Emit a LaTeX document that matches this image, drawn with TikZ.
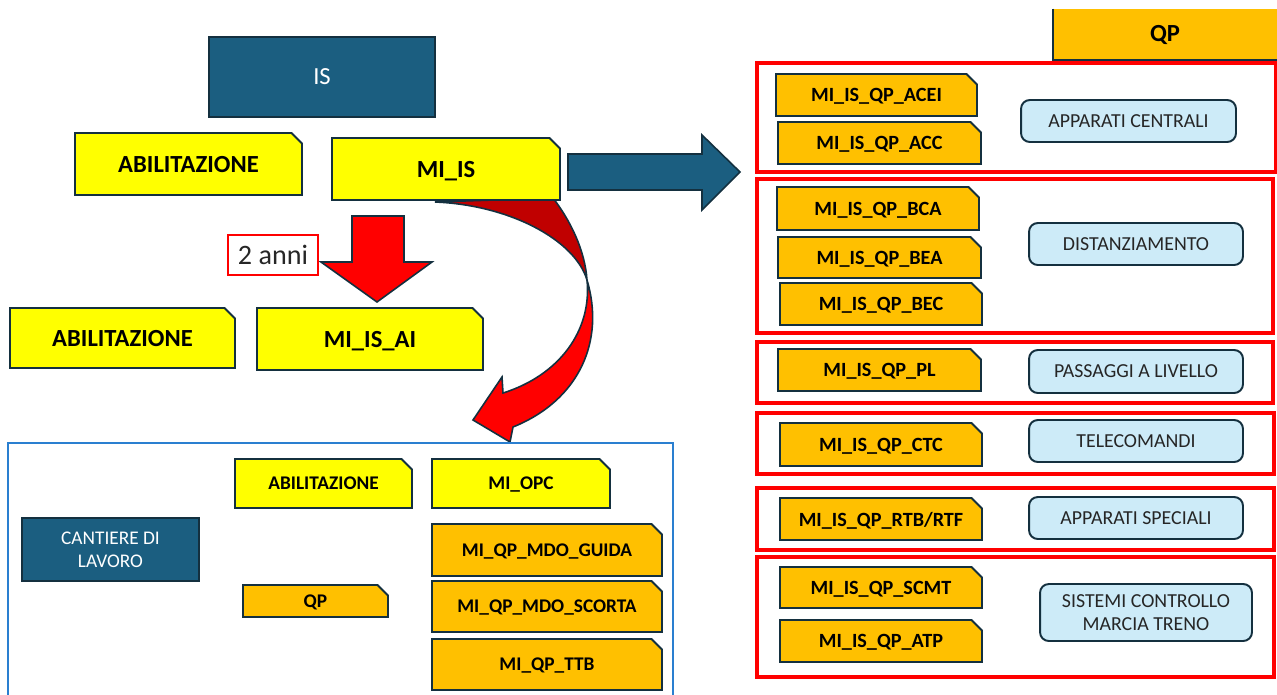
\documentclass[tikz,border=0pt]{standalone}
\usepackage{fontspec}
\setmainfont{Carlito}
\usetikzlibrary{shapes.misc}

\definecolor{isblue}{HTML}{1B5E80}
\definecolor{boxedge}{HTML}{14303F}
\definecolor{tabyellow}{HTML}{FFFF00}
\definecolor{taborange}{HTML}{FFC000}
\definecolor{labelblue}{HTML}{CDEBF8}
\definecolor{groupred}{HTML}{FF0000}
\definecolor{darkred}{HTML}{C00000}
\definecolor{framecol}{HTML}{2A7FD0}

\tikzset{
  tab/.style={chamfered rectangle, chamfered rectangle corners=north east,
    chamfered rectangle xsep=3pt, chamfered rectangle ysep=3pt,
    draw=boxedge, line width=1.1pt, inner sep=0pt, text depth=0pt},
  yeltab/.style={tab, fill=tabyellow},
  orgtab/.style={tab, fill=taborange},
  bigtxt/.style={font=\bfseries\fontsize{14}{16}\selectfont},
  midtxt/.style={font=\bfseries\fontsize{11.5}{13}\selectfont},
  smalltxt/.style={font=\bfseries\fontsize{11}{13}\selectfont},
  darkbox/.style={rectangle, draw=boxedge, fill=isblue, text=white, line width=1.1pt, align=center},
  lbl/.style={rectangle, rounded corners=5pt, draw=boxedge, fill=labelblue, line width=1.1pt,
    align=center, text=black!85, font=\fontsize{11.3}{13.5}\selectfont},
  group/.style={draw=groupred, line width=1.8pt},
}

\begin{document}
\begin{tikzpicture}[x=0.02cm,y=-0.02cm]
\useasboundingbox (0,0) rectangle (1277,694);

% curved arrow towards the work site
\filldraw[fill=darkred, draw=boxedge, line width=0.9pt] (435,202) .. controls (510,205) and (575,240) .. (587,280)
  .. controls (585,250) and (570,220) .. (553,198) -- cycle;
\filldraw[fill=red, draw=boxedge, line width=0.9pt] (587,280) .. controls (592,330) and (560,375) .. (503,393)
  -- (502,377) -- (473,420) -- (510,442) -- (513,427) .. controls (580,400) and (605,340) .. (587,280) -- cycle;

% straight arrows
\filldraw[fill=red, draw=boxedge, line width=0.9pt] (352,216) -- (404,216) -- (404,262) -- (432,262)
  -- (377,302) -- (321,262) -- (352,262) -- cycle;
\filldraw[fill=isblue, draw=boxedge, line width=0.9pt] (568,154) -- (702,154) -- (702,135) -- (740,172)
  -- (702,210) -- (702,190) -- (568,190) -- cycle;

% left
\node[darkbox, minimum width=4.52cm, minimum height=1.6cm, font=\fontsize{14}{16}\selectfont] (is) at (322,77) {IS};
\node[yeltab, bigtxt, minimum width=4.54cm, minimum height=1.24cm] (abil) at (188.5,164) {ABILITAZIONE};
\node[yeltab, bigtxt, minimum width=4.56cm, minimum height=1.24cm] (miis) at (446,169) {MI\_IS};
\node[draw=groupred, fill=white, line width=0.8pt, minimum width=1.8cm, minimum height=0.8cm,
  text=black!85, font=\fontsize{16}{18}\selectfont] (anni) at (273,255) {2 anni};
\node[yeltab, bigtxt, minimum width=4.5cm, minimum height=1.2cm] (abilai) at (122.5,338) {ABILITAZIONE};
\node[yeltab, bigtxt, minimum width=4.52cm, minimum height=1.24cm] (miisai) at (370,339) {MI\_IS\_AI};

% work site
\draw[framecol, line width=1.4pt] (8,443) rectangle (673,720);
\node[darkbox, minimum width=3.54cm, minimum height=1.26cm, font=\fontsize{11}{13}\selectfont] (cantiere) at (110.5,549.5) {CANTIERE DI\\LAVORO};
\node[yeltab, smalltxt, minimum width=3.54cm, minimum height=0.98cm] (abilopc) at (323.5,483.5) {ABILITAZIONE};
\node[yeltab, smalltxt, minimum width=3.56cm, minimum height=0.98cm] (miopc) at (521,483.5) {MI\_OPC};
\node[orgtab, smalltxt, minimum width=2.9cm, minimum height=0.64cm] (qpopc) at (315.5,601) {QP};
\node[orgtab, smalltxt, minimum width=4.6cm, minimum height=1.04cm] (guida) at (547,550) {MI\_QP\_MDO\_GUIDA};
\node[orgtab, smalltxt, minimum width=4.6cm, minimum height=1.02cm] (scorta) at (547,606.5) {MI\_QP\_MDO\_SCORTA};
\node[orgtab, smalltxt, minimum width=4.6cm, minimum height=1.02cm] (ttb) at (547,664.5) {MI\_QP\_TTB};

% right
\node[fill=taborange, bigtxt, minimum width=4.48cm, minimum height=1.02cm] (qp) at (1165,34.5) {QP};
\draw[boxedge, line width=1.1pt] (qp.north west) -- (qp.south west) -- (qp.south east);

\draw[group] (757,63) rectangle (1276,172);
\draw[group] (757,179) rectangle (1273,333);
\draw[group] (757,342) rectangle (1273,403);
\draw[group] (757,413) rectangle (1274,474);
\draw[group] (757,488) rectangle (1274,550);
\draw[group] (757,557) rectangle (1274,677);

\node[orgtab, midtxt, minimum width=4.02cm, minimum height=0.84cm] (acei) at (876.5,95) {MI\_IS\_QP\_ACEI};
\node[orgtab, midtxt, minimum width=4.06cm, minimum height=0.84cm] (acc) at (879.5,143) {MI\_IS\_QP\_ACC};
\node[orgtab, midtxt, minimum width=4.04cm, minimum height=0.86cm] (bca) at (878,208.5) {MI\_IS\_QP\_BCA};
\node[orgtab, midtxt, minimum width=4.06cm, minimum height=0.82cm] (bea) at (879.5,257.5) {MI\_IS\_QP\_BEA};
\node[orgtab, midtxt, minimum width=4.04cm, minimum height=0.84cm] (bec) at (881,304) {MI\_IS\_QP\_BEC};
\node[orgtab, midtxt, minimum width=4.06cm, minimum height=0.84cm] (pl) at (879.5,370) {MI\_IS\_QP\_PL};
\node[orgtab, midtxt, minimum width=4.04cm, minimum height=0.86cm] (ctc) at (881,444.5) {MI\_IS\_QP\_CTC};
\node[orgtab, midtxt, minimum width=4.04cm, minimum height=0.84cm] (rtb) at (881,519) {MI\_IS\_QP\_RTB/RTF};
\node[orgtab, midtxt, minimum width=4.04cm, minimum height=0.82cm] (scmt) at (881,587.5) {MI\_IS\_QP\_SCMT};
\node[orgtab, midtxt, minimum width=4.04cm, minimum height=0.84cm] (atp) at (881,641) {MI\_IS\_QP\_ATP};

\node[lbl, minimum width=4.3cm, minimum height=0.84cm] (apc) at (1128.5,121) {APPARATI CENTRALI};
\node[lbl, minimum width=4.28cm, minimum height=0.84cm] (dist) at (1136,244) {DISTANZIAMENTO};
\node[lbl, minimum width=4.28cm, minimum height=0.86cm] (pass) at (1136,371.5) {PASSAGGI A LIVELLO};
\node[lbl, minimum width=4.28cm, minimum height=0.84cm] (tele) at (1136,441) {TELECOMANDI};
\node[lbl, minimum width=4.28cm, minimum height=0.84cm] (spec) at (1136,518) {APPARATI SPECIALI};
\node[lbl, minimum width=4.24cm, minimum height=1.14cm] (sist) at (1146,612.5) {SISTEMI CONTROLLO\\MARCIA TRENO};
\end{tikzpicture}
\end{document}
